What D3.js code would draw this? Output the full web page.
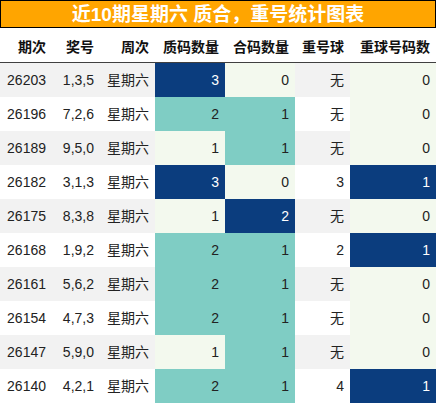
<!DOCTYPE html>
<html><head><meta charset="utf-8">
<script src="https://cdn.jsdelivr.net/npm/d3@7"></script>
<style>body{margin:0;background:#fff;font-family:"Liberation Sans","Noto Sans CJK SC",sans-serif;}</style>
</head><body>
<script>
const title = "近10期星期六 质合，重号统计图表";
const headers = ["期次", "奖号", "周次", "质码数量", "合码数量", "重号球", "重球号码数"];
const issues = ["26203", "26196", "26189", "26182", "26175", "26168", "26161", "26154", "26147", "26140"];
const numbers = ["1,3,5", "7,2,6", "9,5,0", "3,1,3", "8,3,8", "1,9,2", "5,6,2", "4,7,3", "5,9,0", "4,2,1"];
const weekday = "星期六";
const primeCount = [3, 2, 1, 3, 1, 2, 2, 2, 1, 2];
const compositeCount = [0, 1, 1, 0, 2, 1, 1, 1, 1, 1];
const repeatBall = ["无", "无", "无", "3", "无", "2", "无", "无", "无", "4"];
const repeatCount = [0, 0, 0, 1, 0, 1, 0, 0, 0, 1];

const W = 436, H = 405;
const colX = [0, 52, 100, 155, 225, 295, 350, 436];
const titleH = 28, headH = 35, rowH = 34;

const svg = d3.select("body").append("svg").attr("width", W).attr("height", H);

svg.append("rect").attr("x", 0.5).attr("y", 0.5).attr("width", W - 1).attr("height", titleH - 1)
  .attr("fill", "#ffa500").attr("stroke", "#000");
svg.append("text").attr("x", W / 2).attr("y", 21).attr("text-anchor", "middle")
  .attr("fill", "#fff").attr("font-size", 19).attr("font-weight", "bold").text(title);

headers.forEach((h, i) => {
  svg.append("text").attr("x", colX[i + 1] - 6).attr("y", titleH + 24).attr("text-anchor", "end")
    .attr("font-size", 14).attr("font-weight", "bold").attr("fill", "#111").text(h);
});
svg.append("line").attr("x1", 0).attr("x2", W).attr("y1", titleH + headH).attr("y2", titleH + headH)
  .attr("stroke", "#000").attr("stroke-width", 1.5);

const y = d3.scaleBand().domain(d3.range(issues.length)).range([titleH + headH, titleH + headH + rowH * issues.length]);

function heat(values) {
  const ext = d3.extent(values);
  return d3.scaleLinear().domain([ext[0], (ext[0] + ext[1]) / 2, ext[1]])
    .range(["#f3f9ee", "#7fcdc4", "#0b3d7e"]);
}
const heatCols = { 3: [primeCount, heat(primeCount)], 4: [compositeCount, heat(compositeCount)], 6: [repeatCount, heat(repeatCount)] };

issues.forEach((iss, r) => {
  const cells = [iss, numbers[r], weekday, primeCount[r], compositeCount[r], repeatBall[r], repeatCount[r]];
  const zebra = r % 2 === 0 ? "#f2f2f2" : "#ffffff";
  cells.forEach((v, c) => {
    let fill = zebra, tc = "#222";
    if (heatCols[c]) {
      fill = heatCols[c][1](heatCols[c][0][r]);
      if (fill === "rgb(11, 61, 126)") tc = "#fff";
    }
    svg.append("rect").attr("x", colX[c]).attr("y", y(r)).attr("width", colX[c + 1] - colX[c])
      .attr("height", y.bandwidth()).attr("fill", fill);
    svg.append("text").attr("x", colX[c + 1] - 6).attr("y", y(r) + 22).attr("text-anchor", "end")
      .attr("font-size", 14).attr("fill", tc).text(v);
  });
});
</script>
</body></html>
